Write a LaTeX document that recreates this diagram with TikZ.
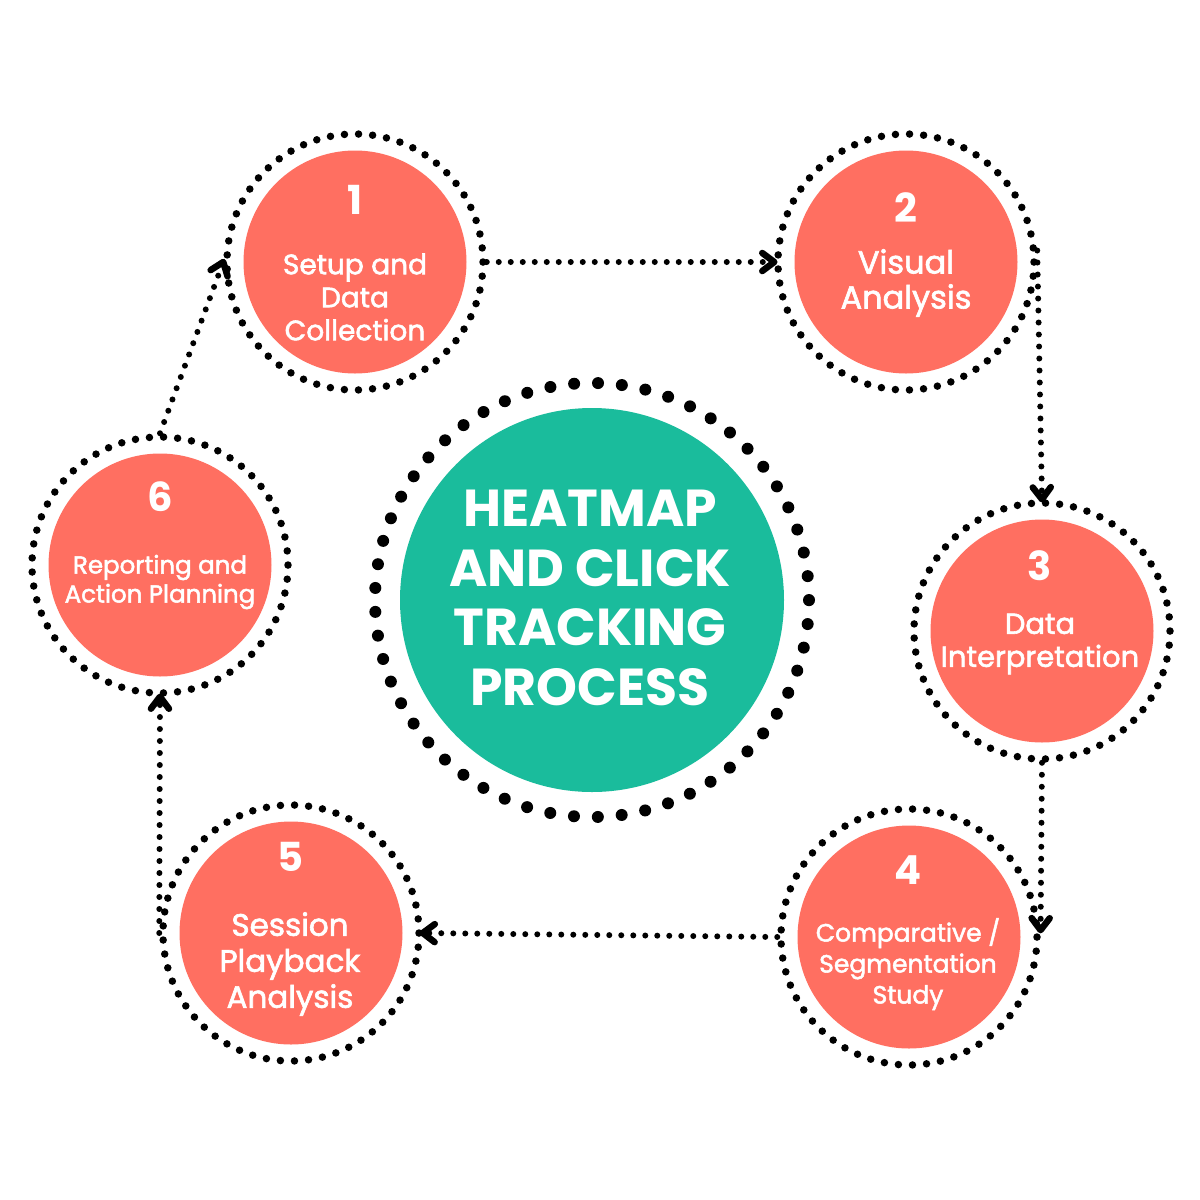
\documentclass[tikz,border=0pt]{standalone}
\usepackage{fontspec}
\setmainfont{Poppins}
\newfontfamily\labfont{Poppins}[FakeBold=2]
\usetikzlibrary{calc}
\definecolor{coral}{HTML}{FF6F61}
\definecolor{teal}{HTML}{1ABC9C}
\tikzset{
  ring/.style={circle, draw=black, line width=7.5pt, line cap=round,
    dash pattern=on 0pt off 14.11pt, minimum size=256pt, inner sep=0pt},
  bigring/.style={circle, draw=black, line width=12pt, line cap=round,
    dash pattern=on 0pt off 23.92pt, minimum size=434pt, inner sep=0pt},
  disc/.style={circle, fill=coral, minimum size=223pt, inner sep=0pt},
  bigdisc/.style={circle, fill=teal, minimum size=384pt, inner sep=0pt},
  num/.style={text=white, font=\bfseries\fontsize{40}{40}\selectfont},
  lab/.style={text=white, align=center},
  flow/.style={line width=6pt, line cap=round, dash pattern=on 0pt off 12pt},
  chev/.style={line width=6.5pt, line cap=round, line join=round},
}
% #1 start, #2 tip
\newcommand{\chevron}[2]{%
  \draw[chev] ($(#2)!15pt!-37:(#1)$) -- (#2) -- ($(#2)!15pt!37:(#1)$);}
\begin{document}
\begin{tikzpicture}[x=1pt,y=-1pt]
\useasboundingbox (0,0) rectangle (1200,1200);
\fill[white] (0,0) rectangle (1200,1200);
% center
\node[bigdisc] (dc) at (592,600) {};
\node[bigring] (cc) at (592,600) {};
\node[text=white, align=center, font=\bfseries\fontsize{52}{59.5}\selectfont] (title) at (590,598) {HEATMAP\\AND CLICK\\TRACKING\\PROCESS};
% step circles
\node[disc] (d1) at (355,262) {};
\node[ring] (c1) at (355,262) {};
\node[disc] (d2) at (906,262) {};
\node[ring] (c2) at (906,262) {};
\node[disc] (d3) at (1042,631) {};
\node[ring] (c3) at (1042,631) {};
\node[disc] (d4) at (909,937) {};
\node[ring] (c4) at (909,937) {};
\node[disc] (d5) at (291,933) {};
\node[ring] (c5) at (291,933) {};
\node[disc] (d6) at (160,565) {};
\node[ring] (c6) at (160,565) {};
% numbers
\node[num] (n1) at (355,200) {1};
\node[num] (n2) at (906,208) {2};
\node[num] (n3) at (1040,566) {3};
\node[num] (n4) at (908,870) {4};
\node[num] (n5) at (290,857) {5};
\node[num] (n6) at (160,497) {6};
% labels
\node[lab, font=\labfont\fontsize{28}{33}\selectfont] (t1) at (355,297) {Setup and\\Data\\Collection};
\node[lab, font=\labfont\fontsize{32}{35}\selectfont] (t2) at (906,283) {Visual\\Analysis};
\node[lab, font=\labfont\fontsize{29}{33}\selectfont] (t3) at (1040,644) {Data\\Interpretation};
\node[lab, font=\labfont\fontsize{25}{31}\selectfont] (t4) at (908,964) {Comparative /\\Segmentation\\Study};
\node[lab, font=\labfont\fontsize{31}{36}\selectfont] (t5) at (290,964) {Session\\Playback\\Analysis};
\node[lab, font=\labfont\fontsize{24.5}{29}\selectfont] (t6) at (160,582) {Reporting and\\Action Planning};
% connectors (dotted line + solid chevron head)
\draw[flow] (c1.east) -- (c2.west);
\chevron{c1.east}{c2.west}
\draw[flow] (c2.5) -- (c3.north);
\chevron{c2.5}{c3.north}
\draw[flow] (c3.south) -- (c4.3);
\chevron{c3.south}{c4.3}
\draw[flow] (c4.west) -- (c5.east);
\chevron{c4.west}{c5.east}
\draw[flow] (c5.west) -- (c6.south);
\chevron{c5.west}{c6.south}
\draw[flow] (c6.north) -- (c1.west);
\chevron{c6.north}{c1.west}
\end{tikzpicture}
\end{document}
